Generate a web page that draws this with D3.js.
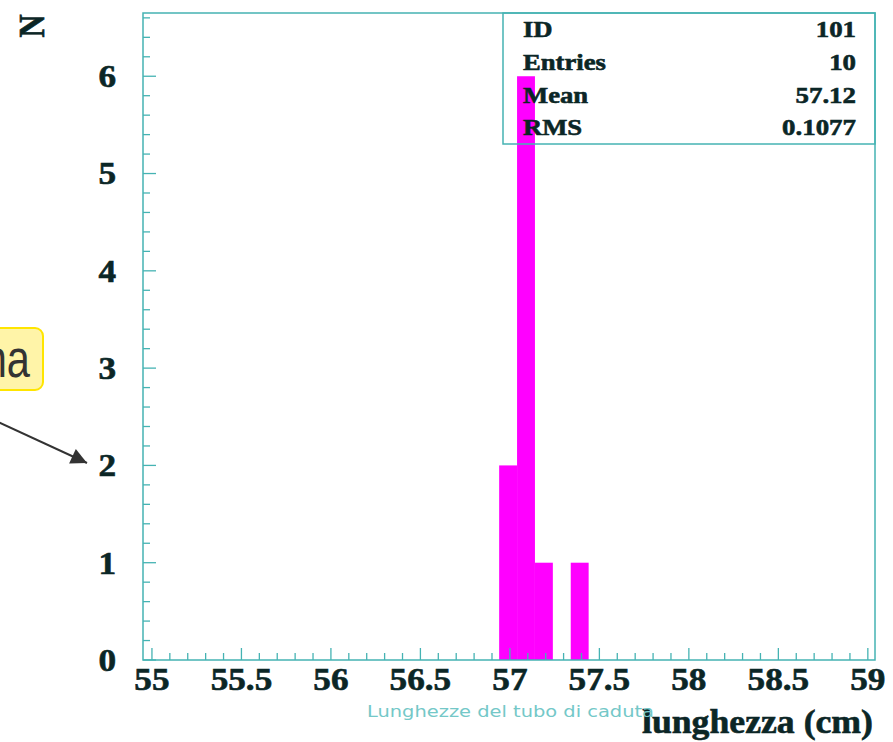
<!DOCTYPE html>
<html>
<head>
<meta charset="utf-8">
<script src="https://cdn.jsdelivr.net/npm/d3@7"></script>
<style>
  html, body { margin: 0; padding: 0; background: #ffffff; overflow: hidden; }
  svg { display: block; }
</style>
</head>
<body>
<svg id="chart" width="893" height="742"></svg>
<script>
// ---- data ----
const binStarts = [56.94, 57.04, 57.14, 57.34];
const binCounts = [2, 6, 1, 1];
const binWidth = 0.1;
const xTickValues = [55, 55.5, 56, 56.5, 57, 57.5, 58, 58.5, 59];
const xTickLabels = ["55", "55.5", "56", "56.5", "57", "57.5", "58", "58.5", "59"];
const yTickValues = [0, 1, 2, 3, 4, 5, 6];
const yTickLabels = ["0", "1", "2", "3", "4", "5", "6"];
const statNames = ["ID", "Entries", "Mean", "RMS"];
const statValues = ["101", "10", "57.12", "0.1077"];
const xTitle = "lunghezza (cm)";
const yTitle = "N";
const caption = "Lunghezze del tubo di caduta";
const calloutText = "na";

// ---- layout ----
const svg = d3.select("#chart");
const L = 143, R = 875, T = 13, B = 660;
const axisColor = "#45b3b3";
const textColor = "#0b2626";
const serif = "'Liberation Serif', 'Times New Roman', serif";

const x = d3.scaleLinear().domain([54.95, 59.04]).range([L, R]);
const y = d3.scaleLinear().domain([0, 6.65]).range([B, T]);

function boldSerif(sel, size) {
  return sel.attr("font-family", serif).attr("font-weight", "bold").attr("font-size", size)
    .attr("fill", textColor).attr("stroke", textColor).attr("stroke-width", 0.6);
}

// bars
svg.append("g").selectAll("rect").data(binStarts).join("rect")
  .attr("x", d => x(d))
  .attr("width", (d) => x(d + binWidth) - x(d))
  .attr("y", (d, i) => y(binCounts[i]))
  .attr("height", (d, i) => y(0) - y(binCounts[i]))
  .attr("fill", "#ff00ff");

// frame
svg.append("rect").attr("x", L).attr("y", T).attr("width", R - L).attr("height", B - T)
  .attr("fill", "none").attr("stroke", axisColor).attr("stroke-width", 1.5);

// x axis minor/major ticks (pointing up, inside)
const xMinor = d3.range(550, 591).map(v => v / 10);
svg.append("g").selectAll("line").data(xMinor).join("line")
  .attr("x1", d => x(d)).attr("x2", d => x(d))
  .attr("y1", B)
  .attr("y2", d => B - (Math.abs(d * 2 - Math.round(d * 2)) < 1e-6 ? 12 : 7))
  .attr("stroke", axisColor).attr("stroke-width", 1.3);

// y axis ticks (pointing right, inside)
const yMinor = d3.range(0, 34).map(v => v / 5);
svg.append("g").selectAll("line").data(yMinor).join("line")
  .attr("y1", d => y(d)).attr("y2", d => y(d))
  .attr("x1", L)
  .attr("x2", d => L + (Math.abs(d - Math.round(d)) < 1e-6 ? 13 : 7))
  .attr("stroke", axisColor).attr("stroke-width", 1.3);

// x tick labels
boldSerif(svg.append("g").selectAll("text").data(xTickValues).join("text")
  .attr("transform", d => `translate(${x(d)},690) scale(1.1,1)`)
  .attr("text-anchor", "middle"), 32)
  .text((d, i) => xTickLabels[i]);

// y tick labels
boldSerif(svg.append("g").selectAll("text").data(yTickValues).join("text")
  .attr("transform", d => `translate(116,${y(d)}) scale(1.1,1)`)
  .attr("dy", "0.34em")
  .attr("text-anchor", "end"), 32)
  .text((d, i) => yTickLabels[i]);

// axis titles
boldSerif(svg.append("text")
  .attr("transform", "translate(32,26) rotate(-90) scale(1,1.1)")
  .attr("text-anchor", "middle").attr("dy", "0.34em"), 32)
  .text(yTitle);

boldSerif(svg.append("text")
  .attr("transform", "translate(873,733) scale(1.05,1)").attr("text-anchor", "end"), 34)
  .text(xTitle);

svg.append("text")
  .attr("x", 367).attr("y", 717)
  .attr("textLength", 287).attr("lengthAdjust", "spacingAndGlyphs")
  .attr("font-family", "'DejaVu Sans', sans-serif").attr("font-size", 15)
  .attr("fill", "#74c8c8").text(caption);

// stats box
svg.append("rect").attr("x", 503).attr("y", T).attr("width", R - 503).attr("height", 144 - T)
  .attr("fill", "none").attr("stroke", axisColor).attr("stroke-width", 1.5);
const statBase = [37, 70, 103, 135];
boldSerif(svg.append("g").selectAll("text").data(statNames).join("text")
  .attr("transform", (d, i) => `translate(523,${statBase[i]}) scale(1.11,1)`), 24)
  .text(d => d);
boldSerif(svg.append("g").selectAll("text").data(statValues).join("text")
  .attr("transform", (d, i) => `translate(856,${statBase[i]}) scale(1.12,1)`)
  .attr("text-anchor", "end"), 24)
  .text(d => d);

// callout annotation
svg.append("rect").attr("x", -12).attr("y", 328).attr("width", 55).attr("height", 62)
  .attr("rx", 8).attr("fill", "#fff4a8").attr("stroke", "#ffe500").attr("stroke-width", 2);
svg.append("text").attr("transform", "translate(30,377) scale(0.8,1)").attr("text-anchor", "end")
  .attr("font-family", "'Liberation Sans', Arial, sans-serif").attr("font-size", 52)
  .attr("fill", "#333333").text(calloutText);

const defs = svg.append("defs");
defs.append("marker").attr("id", "arr").attr("viewBox", "0 0 10 10")
  .attr("refX", 10).attr("refY", 5).attr("markerWidth", 9).attr("markerHeight", 8)
  .attr("markerUnits", "strokeWidth").attr("orient", "auto")
  .append("path").attr("d", "M0,0 L10,5 L0,10 Z").attr("fill", "#333333");
svg.append("line").attr("x1", -2).attr("y1", 422).attr("x2", 87).attr("y2", 463)
  .attr("stroke", "#333333").attr("stroke-width", 2).attr("marker-end", "url(#arr)");
</script>
</body>
</html>
